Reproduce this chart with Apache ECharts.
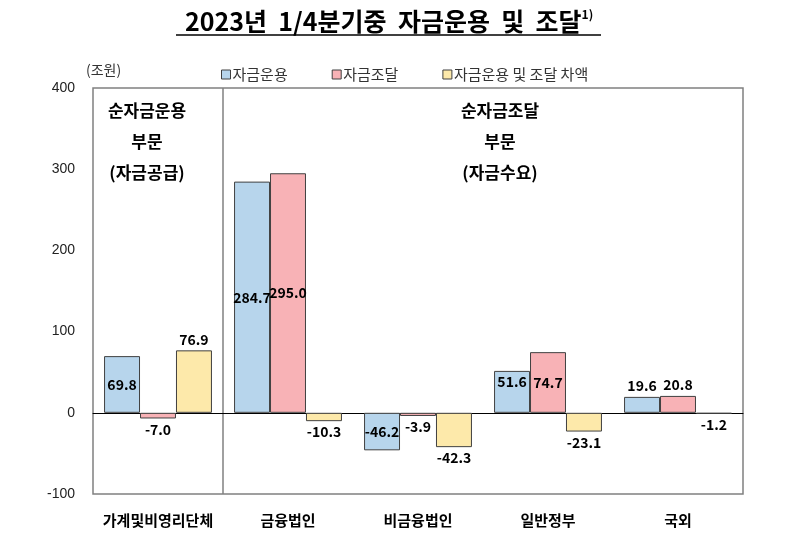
<!DOCTYPE html>
<html><head><meta charset="utf-8">
<script src="https://cdn.jsdelivr.net/npm/echarts@6/dist/echarts.min.js"></script>
<style>html,body{margin:0;padding:0;background:#fff}#c{width:800px;height:533px}</style>
</head><body><div id="c"></div>
<script>
const categories = ['가계및비영리단체', '금융법인', '비금융법인', '일반정부', '국외'];
const seriesNames = ['자금운용', '자금조달', '자금운용 및 조달 차액'];
const useValues = [69.8, 284.7, -46.2, 51.6, 19.6];
const raiseValues = [-7.0, 295.0, -3.9, 74.7, 20.8];
const diffValues = [76.9, -10.3, -42.3, -23.1, -1.2];
const yTicks = [-100, 0, 100, 200, 300, 400];

const FONT = '"Noto Sans CJK KR", "Noto Sans", sans-serif';
const colors = ['#b7d5ec', '#f8b2b6', '#fde9aa'];
const labelPos = [
  ['inside', 'inside', 'inside', 'insideTop', 'top'],
  ['bottom', 'inside', 'bottom', 'inside', 'top'],
  ['top', 'bottom', 'bottom', 'bottom', 'bottom']
];
const lblStyle = {show: true, color: '#000', fontWeight: 'bold', fontSize: 14, fontFamily: FONT,
  formatter: p => p.value.toFixed(1), distance: 4};

function mk(name, vals, idx) {
  return {
    name: name, type: 'bar', barGap: 0, barCategoryGap: '17%',
    itemStyle: {color: colors[idx], borderColor: '#404040', borderWidth: 1},
    data: vals.map((v, i) => ({value: v, label: Object.assign({}, lblStyle, {position: labelPos[idx][i]})})),
    label: lblStyle
  };
}

const chart = echarts.init(document.getElementById('c'));
chart.setOption({
  animation: false,
  title: {
    text: '2023년  1/4분기중  자금운용  및  조달{sup|1)}',
    left: 180, top: 3,
    textStyle: {fontFamily: FONT, fontSize: 25, fontWeight: 'bold', color: '#000',
      rich: {sup: {fontSize: 12, fontWeight: 'bold', verticalAlign: 'top', padding: [0, 0, 14, 0], fontFamily: FONT, color: '#000'}}}
  },
  legend: {
    left: 216, top: 62, itemWidth: 9, itemHeight: 9, itemGap: 44, icon: 'rect',
    textStyle: {fontFamily: FONT, fontSize: 15, color: '#333', padding: [0, 0, 0, -3]},
    itemStyle: {borderColor: '#404040', borderWidth: 1}
  },
  grid: {left: 93, right: 57, top: 88, bottom: 39, show: true, borderColor: '#808080', borderWidth: 1.5},
  xAxis: {
    type: 'category', data: categories,
    axisLine: {onZero: true, lineStyle: {color: '#000', width: 1}},
    axisTick: {show: false},
    axisLabel: {color: '#000', fontFamily: FONT, fontSize: 15, fontWeight: 'bold', margin: 19, interval: 0},
    splitLine: {show: false}
  },
  yAxis: {
    type: 'value', min: yTicks[0], max: yTicks[yTicks.length - 1], interval: 100,
    axisLine: {show: false}, axisTick: {show: false}, splitLine: {show: false},
    axisLabel: {color: '#222', fontFamily: '"Liberation Sans", Arial, sans-serif', fontSize: 14, margin: 18}
  },
  graphic: [
    {id: 'ul', type: 'line', shape: {x1: 176, y1: 35, x2: 601, y2: 35}, style: {stroke: '#000', lineWidth: 1.5}},
    {id: 'unit', type: 'text', left: 86, top: 63, style: {text: '(조원)', fontFamily: FONT, fontSize: 14, fill: '#333'}},
    {id: 'a1', type: 'text', x: 147, y: 95, style: {text: '순자금운용\n부문\n(자금공급)', align: 'center', lineHeight: 31,
      fontFamily: FONT, fontSize: 17, fontWeight: 'bold', fill: '#000'}},
    {id: 'a2', type: 'text', x: 500, y: 95, style: {text: '순자금조달\n부문\n(자금수요)', align: 'center', lineHeight: 31,
      fontFamily: FONT, fontSize: 17, fontWeight: 'bold', fill: '#000'}}
  ],
  series: [mk(seriesNames[0], useValues, 0), mk(seriesNames[1], raiseValues, 1), mk(seriesNames[2], diffValues, 2)]
});
// separator between first two categories, derived from the axis scale
const p0 = chart.convertToPixel({xAxisIndex: 0}, categories[0]);
const p1 = chart.convertToPixel({xAxisIndex: 0}, categories[1]);
const yTop = chart.convertToPixel({yAxisIndex: 0}, yTicks[yTicks.length - 1]);
const yBot = chart.convertToPixel({yAxisIndex: 0}, yTicks[0]);
const sx = (p0 + p1) / 2;
chart.setOption({graphic: [{id: 'sep', type: 'line', shape: {x1: sx, y1: yTop, x2: sx, y2: yBot}, style: {stroke: '#808080', lineWidth: 1.5}}]});
</script></body></html>
